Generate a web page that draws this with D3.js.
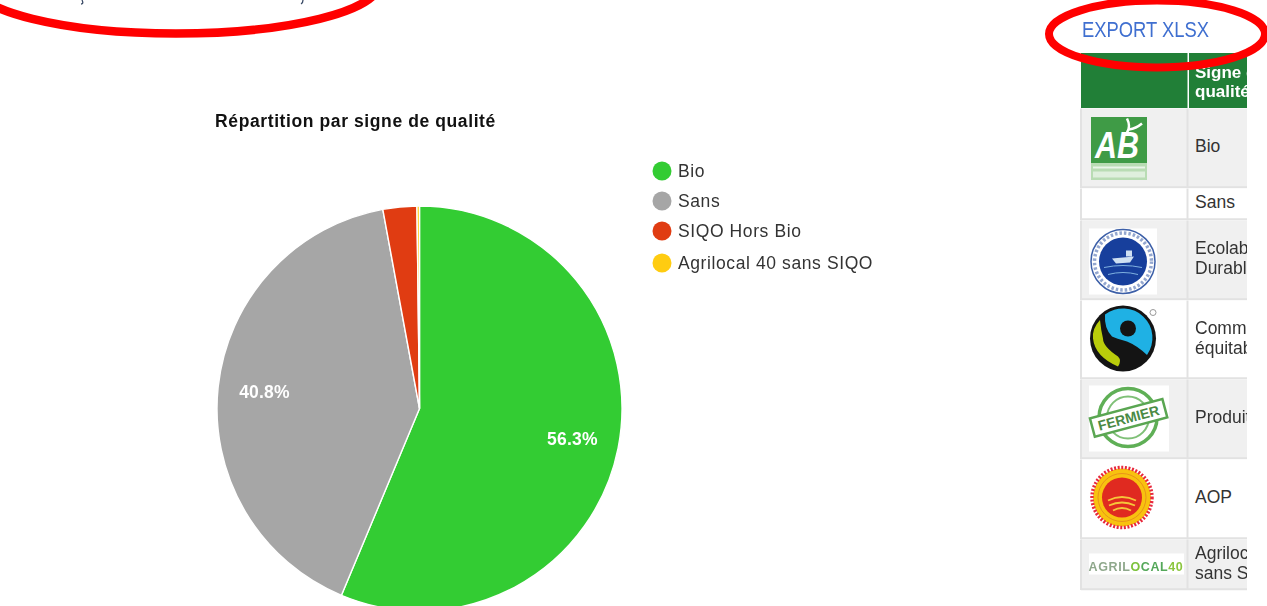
<!DOCTYPE html>
<html><head><meta charset="utf-8">
<script src="https://cdn.jsdelivr.net/npm/d3@7"></script>
<style>
html,body{margin:0;padding:0;background:#fff;width:1267px;height:606px;overflow:hidden}
svg{display:block;filter:blur(0.55px)}
text{font-family:"Liberation Sans",Arial,sans-serif}
</style></head><body>
<svg id="c" width="1267" height="606"></svg>
<script>
const categories=["Bio","Sans","SIQO Hors Bio","Agrilocal 40 sans SIQO"];
const shares=[56.3,40.8,2.7,0.2];
const colors=["#33cc33","#a6a6a6","#e03c12","#ffcc11"];
const shownLabels=["56.3%","40.8%",null,null];
const chartTitle="Répartition par signe de qualité";
const exportLabel="EXPORT XLSX";
const headerLines=["Signe de","qualité"];
const rowLines=[["Bio"],["Sans"],["Ecolabel Pêche","Durable"],["Commerce","équitable"],["Produit fermier"],["AOP"],["Agrilocal 40","sans SIQO"]];
const rowLogos=["ab",null,"peche","fair","fermier","aop","agri"];
const rowHeights=[78,30,78,77,78,78,49];

const svg=d3.select("#c");
const defs=svg.append("defs");
defs.append("clipPath").attr("id","tc").append("rect").attr("x",1075).attr("y",0).attr("width",172).attr("height",606);

// title
svg.append("text").attr("x",355.5).attr("y",127).attr("text-anchor","middle")
  .attr("font-size",17.5).attr("font-weight",700).attr("letter-spacing",0.6).attr("fill","#111").text(chartTitle);

// pie
const cx=419.5,cy=408.5,R=202.5;
const pie=d3.pie().sort(null).value(d=>d)(shares);
const arc=d3.arc().innerRadius(0).outerRadius(R);
const g=svg.append("g").attr("transform",`translate(${cx},${cy})`);
g.selectAll("path").data(pie).join("path").attr("d",arc)
  .attr("fill",(d,i)=>colors[i]).attr("stroke","#fff").attr("stroke-width",1.4);
const labelArc=d3.arc().innerRadius(R*0.77).outerRadius(R*0.77);
g.selectAll("text").data(pie.filter((d,i)=>shownLabels[i])).join("text")
  .attr("transform",d=>`translate(${labelArc.centroid(d)})`)
  .attr("text-anchor","middle").attr("dy","0.35em")
  .attr("font-size",17.5).attr("font-weight",700).attr("letter-spacing",0.2).attr("fill","#fff")
  .text(d=>shownLabels[d.index]);

// legend
const legendY=d3.scaleOrdinal().domain(categories).range([171,201,231,263]);
const lg=svg.append("g").selectAll("g").data(categories).join("g")
  .attr("transform",d=>`translate(662,${legendY(d)})`);
lg.append("circle").attr("r",9.5).attr("fill",(d,i)=>colors[i]);
lg.append("text").attr("x",16).attr("dy","0.36em").attr("font-size",17.5).attr("letter-spacing",0.6)
  .attr("fill","#333").text(d=>d);

// table
const tbl=svg.append("g").attr("clip-path","url(#tc)");
const x0=1081,x1=1187.5,x2=1247;
tbl.append("rect").attr("x",x0).attr("y",53).attr("width",x1-x0).attr("height",55).attr("fill","#217f37");
tbl.append("rect").attr("x",x1+1.5).attr("y",53).attr("width",x2-x1).attr("height",55).attr("fill","#217f37");
tbl.selectAll(".h").data(headerLines).join("text").attr("x",1195).attr("y",(d,i)=>78+i*19)
  .attr("font-size",17).attr("font-weight",700).attr("fill","#fff").text(d=>d);
let y=108.5;
rowLines.forEach((lines,i)=>{
  const h=rowHeights[i];
  const r=tbl.append("g").attr("transform",`translate(0,${y})`);
  r.append("rect").attr("x",x0).attr("y",0).attr("width",x2-x0).attr("height",h+1.5)
   .attr("fill",i%2===0?"#f0f0f0":"#fff");
  r.append("line").attr("x1",x0).attr("x2",x2).attr("y1",h+0.8).attr("y2",h+0.8).attr("stroke","#e2e2e2").attr("stroke-width",2);
  r.append("line").attr("x1",x1).attr("x2",x1).attr("y1",0).attr("y2",h+1.5).attr("stroke","#e2e2e2").attr("stroke-width",2);
  r.append("line").attr("x1",x0).attr("x2",x0).attr("y1",0).attr("y2",h+1.5).attr("stroke","#e2e2e2").attr("stroke-width",2);
  const midY=h/2;
  r.selectAll("text").data(lines).join("text").attr("x",1195)
   .attr("y",(d,k)=>midY+4.5-(lines.length-1)*10+k*20).attr("font-size",17.5).attr("fill","#333").text(d=>d);
  drawLogo(r,rowLogos[i]);
  y+=h+2;
});

function drawLogo(r,k){
  if(k==="ab"){
    r.append("rect").attr("x",1091).attr("y",8.5).attr("width",56).attr("height",46).attr("fill","#3f9b46");
    r.append("rect").attr("x",1091).attr("y",54.5).attr("width",56).attr("height",17).attr("fill","#b9dcb4");
    r.append("text").attr("x",1095).attr("y",49).attr("font-size",36).attr("font-weight",700).attr("font-style","italic").attr("fill","#fff").attr("textLength",44).attr("lengthAdjust","spacingAndGlyphs").text("AB");
    r.append("path").attr("d","M1127 24 Q1131 18 1127 10 M1129 21 Q1136 20 1142 15").attr("stroke","#fff").attr("stroke-width",2.5).attr("fill","none");
    r.append("rect").attr("x",1093).attr("y",58).attr("width",52).attr("height",2).attr("fill","#fff").attr("opacity",.7);
    r.append("rect").attr("x",1093).attr("y",63).attr("width",52).attr("height",6).attr("fill","#fff").attr("opacity",.55);
  }
  if(k==="peche"){
    r.append("rect").attr("x",1089).attr("y",8).attr("width",68).attr("height",66).attr("fill","#fff");
    r.append("circle").attr("cx",1123).attr("cy",41).attr("r",32).attr("fill","#fff").attr("stroke","#3c5fa8").attr("stroke-width",1.5);
    r.append("circle").attr("cx",1123).attr("cy",41).attr("r",28.5).attr("fill","none").attr("stroke","#3c5fa8").attr("stroke-width",3.5).attr("stroke-dasharray","2.5 2").attr("opacity",.55);
    r.append("circle").attr("cx",1123).attr("cy",41).attr("r",24).attr("fill","#173f9c");
    r.append("path").attr("d","M1112 38 L1134 36 L1130 42 L1116 43Z M1126 36 L1126 30 L1132 30 L1132 36Z").attr("fill","#cfe0f2");
    r.append("path").attr("d","M1104 47 Q1123 43 1142 47 M1108 54 Q1123 50 1138 54").attr("stroke","#7fb1e0").attr("fill","none");
  }
  if(k==="fair"){
    r.append("circle").attr("cx",1123).attr("cy",38).attr("r",33).attr("fill","#141414");
    r.append("path").attr("d","M1105 14 A29.5 29.5 0 0 1 1147 54.5 Q1137 45 1127 41 Q1116 38 1112 36 Q1104 28 1105 14Z").attr("fill","#1fb1e4");
    r.append("path").attr("d","M1100 19.5 Q1092 28 1093 38 Q1095 56 1118 66 Q1122 60 1118 56 Q1103 46 1103 38 Q1101 30 1100 19.5Z").attr("fill","#b9cc0b");
    r.append("circle").attr("cx",1128).attr("cy",28).attr("r",8).attr("fill","#141414");
    r.append("circle").attr("cx",1153).attr("cy",12).attr("r",3).attr("fill","none").attr("stroke","#999");
  }
  if(k==="fermier"){
    r.append("rect").attr("x",1089).attr("y",6).attr("width",80).attr("height",66).attr("fill","#fff");
    r.append("circle").attr("cx",1128).attr("cy",38).attr("r",29).attr("fill","none").attr("stroke","#5faf56").attr("stroke-width",3.5);
    r.append("circle").attr("cx",1128).attr("cy",38).attr("r",21).attr("fill","none").attr("stroke","#7fc077").attr("stroke-width",2);
    const f=r.append("g").attr("transform","rotate(-15 1128 38)");
    f.append("rect").attr("x",1091).attr("y",29).attr("width",75).attr("height",19).attr("fill","#fff").attr("stroke","#5aa652").attr("stroke-width",2.5);
    f.append("text").attr("x",1128.5).attr("y",43.5).attr("text-anchor","middle").attr("font-size",14).attr("font-weight",700).attr("fill","#4a8a45").text("FERMIER");
  }
  if(k==="aop"){
    r.append("circle").attr("cx",1122).attr("cy",38).attr("r",29).attr("fill","#f8c20f");
    r.append("circle").attr("cx",1122).attr("cy",38).attr("r",30).attr("fill","none").attr("stroke","#e8283c").attr("stroke-width",3.5).attr("stroke-dasharray","2 1.6");
    r.append("circle").attr("cx",1122).attr("cy",38).attr("r",24).attr("fill","none").attr("stroke","#e9941a").attr("stroke-width",1);
    r.append("circle").attr("cx",1122).attr("cy",38).attr("r",20).attr("fill","#e02a20");
    r.append("path").attr("d","M1108 41 Q1122 34 1136 41 M1109 46 Q1122 40 1135 46 M1113 51 Q1122 46 1131 51").attr("stroke","#f6c63a").attr("stroke-width",1.8).attr("fill","none");
  }
  if(k==="agri"){
    r.append("rect").attr("x",1089).attr("y",14).attr("width",95).attr("height",21).attr("fill","#fff");
    const t=r.append("text").attr("x",1136).attr("y",31).attr("text-anchor","middle").attr("font-size",12.5).attr("font-weight",700).attr("letter-spacing",0.6).attr("fill","#8fa88c");
    t.append("tspan").text("AGRIL");
    t.append("tspan").attr("fill","#7cc23c").text("O");
    t.append("tspan").attr("fill","#55a85a").text("CAL");
    t.append("tspan").attr("fill","#8cc63f").text("40");
  }
}

// export link
svg.append("text").attr("x",1082).attr("y",37).attr("font-size",21.5).attr("textLength",127).attr("lengthAdjust","spacingAndGlyphs").attr("fill","#3f6fd0").text(exportLabel);

// clipped remains of the line above the chart, only the descenders show
svg.append("path").attr("d","M82 0 Q84 4 81 4 M303 0 Q303 3 301 4").attr("fill","none").attr("stroke","#3a4a66").attr("stroke-width",1.3);

// red annotations
const red=svg.append("g").attr("fill","none").attr("stroke","#f00");
red.append("ellipse").attr("cx",176).attr("cy",-16.5).attr("rx",203).attr("ry",50).attr("stroke-width",8.5);
red.append("ellipse").attr("cx",1157).attr("cy",34).attr("rx",108).attr("ry",33.5).attr("stroke-width",8);
</script></body></html>
